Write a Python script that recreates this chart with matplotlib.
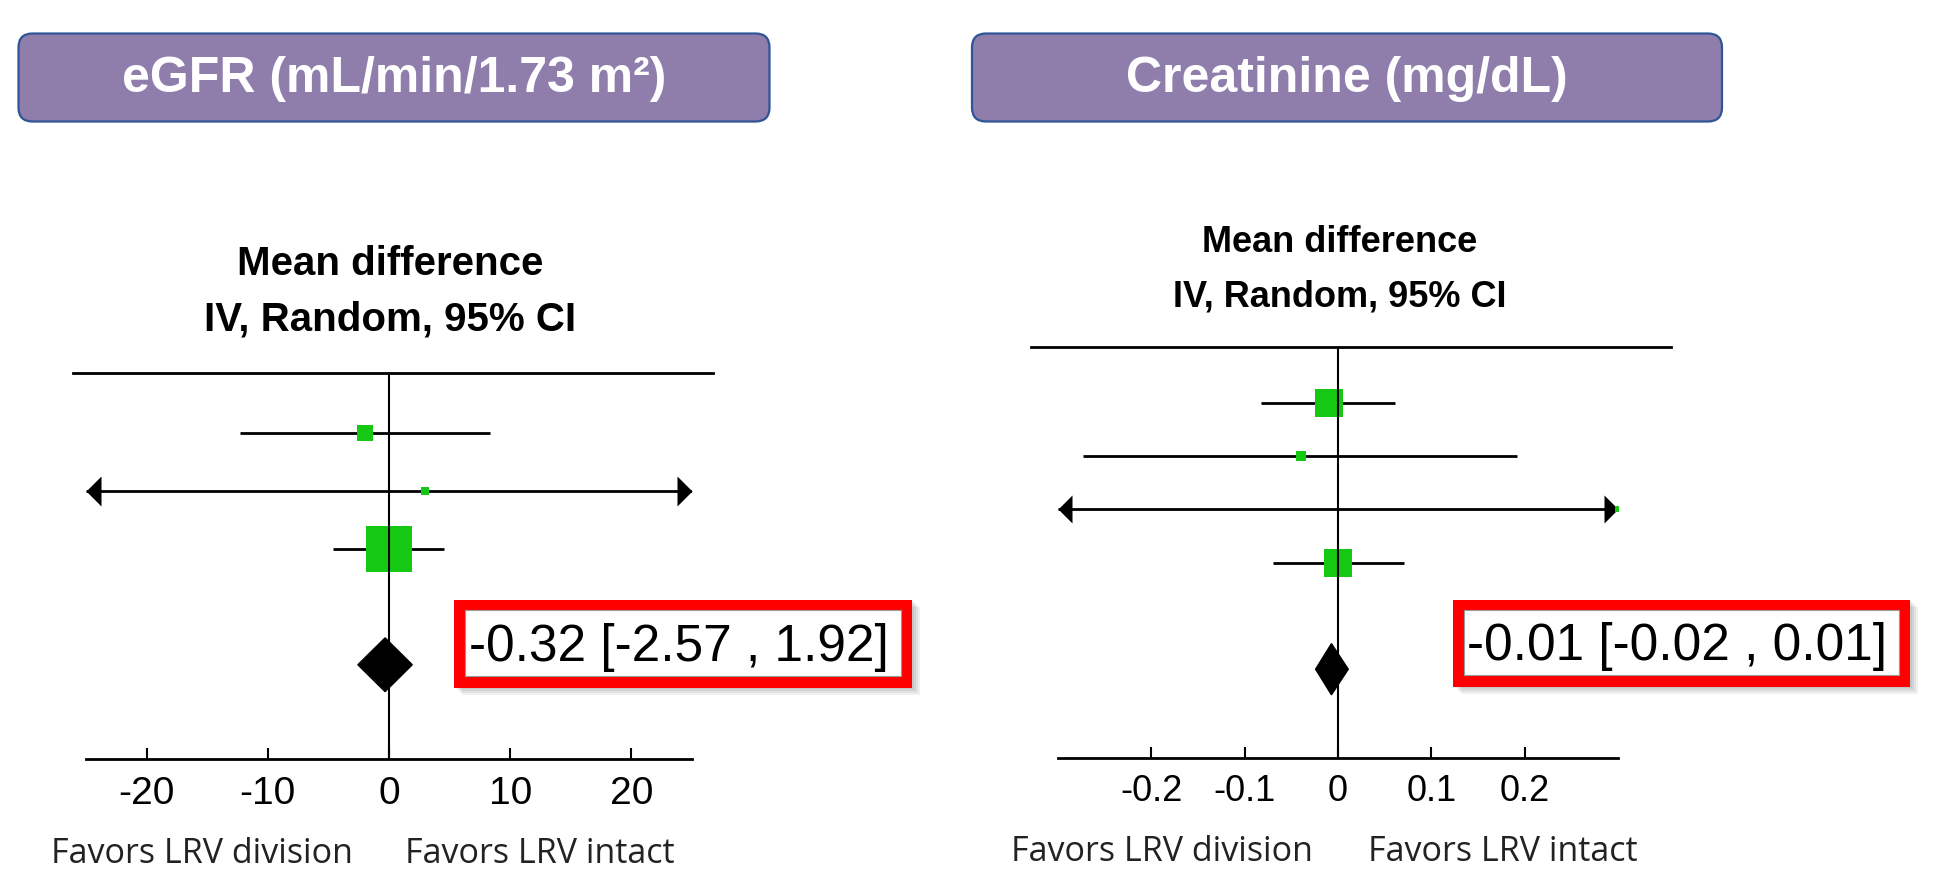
import matplotlib
matplotlib.use("Agg")
import matplotlib.pyplot as plt
from matplotlib.patches import FancyBboxPatch, Rectangle, Polygon
import numpy as np

# ---------------- data ----------------
egfr_title = "eGFR (mL/min/1.73 m²)"
egfr_md = [-2.0, 3.0, 0.0]
egfr_lo = [-12.3, -40.0, -4.6]
egfr_hi = [8.3, 45.0, 4.5]
egfr_weight = [9.5, 3.0, 87.5]
egfr_pooled = [-0.32, -2.57, 1.92]          # estimate, lower, upper
egfr_ticks = [-20, -10, 0, 10, 20]
egfr_tick_labels = ["-20", "-10", "0", "10", "20"]
egfr_label = "-0.32 [-2.57 , 1.92]"

creat_title = "Creatinine (mg/dL)"
creat_md = [-0.01, -0.04, 0.30, 0.0]
creat_lo = [-0.082, -0.273, -0.60, -0.070]
creat_hi = [0.061, 0.192, 1.20, 0.071]
creat_weight = [45.4, 6.8, 1.5, 46.4]
creat_pooled = [-0.007, -0.024, 0.011]
creat_ticks = [-0.2, -0.1, 0, 0.1, 0.2]
creat_tick_labels = ["-0.2", "-0.1", "0", "0.1", "0.2"]
creat_label = "-0.01 [-0.02 , 0.01]"

subtitle_1 = "Mean difference"
subtitle_2 = "IV, Random, 95% CI"
favors_left = "Favors LRV division"
favors_right = "Favors LRV intact"

# ---------------- style ----------------
plt.rcParams['font.family'] = ['Liberation Sans', 'DejaVu Sans']
W, H = 1938, 888
PT = 72.0 / 100.0          # points per pixel at dpi 100
GREEN = '#14C814'
PURPLE = '#8F7DAC'
HEADER_EDGE = '#2F5597'

fig = plt.figure(figsize=(W / 100, H / 100), dpi=100)
bg = fig.add_axes([0, 0, 1, 1])
bg.set_xlim(0, W)
bg.set_ylim(H, 0)
bg.axis('off')

LEFT_HEAD = [(0, 0), (1, 1), (1, -1), (0, 0)]
RIGHT_HEAD = [(0, 0), (-1, 1), (-1, -1), (0, 0)]


def header(x0, x1, y0, y1, text, fs):
    bg.add_patch(FancyBboxPatch((x0, y0), x1 - x0, y1 - y0,
                                boxstyle="round,pad=0,rounding_size=14",
                                fc=PURPLE, ec=HEADER_EDGE, lw=1.6))
    bg.text((x0 + x1) / 2, (y0 + y1) / 2 + 2, text, color='white',
            fontsize=fs, fontweight='bold', ha='center', va='center')


def red_box(x0, x1, y0, y1, text, fs):
    w, h = x1 - x0, y1 - y0
    for k in range(1, 5):
        bg.add_patch(Rectangle((x0 + 2 * k, y0 + 2 * k), w, h, fc='black',
                               ec='none', alpha=0.06))
    lw_px = 11
    bg.add_patch(Rectangle((x0 + lw_px / 2, y0 + lw_px / 2), w - lw_px, h - lw_px,
                           fc='white', ec='#FF0000', lw=lw_px * PT,
                           joinstyle='miter'))
    bg.add_patch(Rectangle((x0 + lw_px, y0 + lw_px), w - 2 * lw_px, h - 2 * lw_px,
                           fc='none', ec='#9A9A9A', lw=0.8))
    bg.text((x0 + x1) / 2 - 4, (y0 + y1) / 2 + 4, text, fontsize=fs,
            ha='center', va='center', color='black')


def forest(px, xlim, ylim, md, lo, hi, weight, pooled, ticks, tick_labels,
           max_px, head_px, tick_fs, top_ext, dia_half):
    x0, y_top, x1, y_bot = px
    ax = fig.add_axes([x0 / W, 1 - y_bot / H, (x1 - x0) / W, (y_bot - y_top) / H])
    ax.set_facecolor('none')
    ax.set_xlim(*xlim)
    ax.set_ylim(*ylim)
    rows = np.arange(1, len(md) + 1)
    lo_c = np.clip(lo, xlim[0], xlim[1])
    hi_c = np.clip(hi, xlim[0], xlim[1])
    ax.hlines(rows, lo_c, hi_c, color='black', lw=2.0, zorder=1)
    for r, l, h in zip(rows, lo, hi):
        if l < xlim[0]:
            ax.plot(xlim[0], r, marker=LEFT_HEAD, ms=head_px * PT, color='black',
                    mew=0, clip_on=False, zorder=1)
        if h > xlim[1]:
            ax.plot(xlim[1], r, marker=RIGHT_HEAD, ms=head_px * PT, color='black',
                    mew=0, clip_on=False, zorder=1)
    wmax = max(weight)
    for r, m, wgt in zip(rows, md, weight):
        side = max_px * np.sqrt(wgt / wmax)
        ax.plot(m, r, marker='s', ms=side * PT, color=GREEN, mew=0, zorder=2)
    ax.axvline(0, color='black', lw=1.5, zorder=3)
    est, plo, phi = pooled
    yd = len(md) + 2
    ax.add_patch(Polygon([(plo, yd), (est, yd - dia_half), (phi, yd), (est, yd + dia_half)],
                         closed=True, fc='black', ec='black', lw=1, zorder=4))
    ax.plot(top_ext, [1, 1], transform=ax.transAxes, color='black', lw=2.0,
            clip_on=False)
    for s in ['left', 'right', 'top']:
        ax.spines[s].set_visible(False)
    ax.spines['bottom'].set_linewidth(2.0)
    ax.set_yticks([])
    ax.set_xticks(ticks, tick_labels)
    ax.tick_params(axis='x', direction='in', length=8, width=1.5, pad=12,
                   labelsize=tick_fs)
    return ax


# ---------------- left panel: eGFR ----------------
header(18.5, 769.5, 33.5, 121.5, egfr_title, 36)
bg.text(390, 264, subtitle_1, fontsize=29, fontweight='bold', ha='center', va='center')
bg.text(390, 319, subtitle_2, fontsize=29, fontweight='bold', ha='center', va='center')
forest((86, 373.3, 692, 759), (-25, 25), (6.63, -0.04), egfr_md, egfr_lo, egfr_hi,
       egfr_weight, egfr_pooled, egfr_ticks, egfr_tick_labels,
       max_px=47, head_px=30, tick_fs=28, top_ext=[-0.0215, 1.034], dia_half=0.465)
red_box(454, 912, 599, 687, egfr_label, 37)
fig.text(202 / W, 1 - 854 / H, favors_left, family='Open Sans', fontsize=24.5,
         ha='center', va='center', color='#222222')
fig.text(540 / W, 1 - 854 / H, favors_right, family='Open Sans', fontsize=24.5,
         ha='center', va='center', color='#222222')

# ---------------- right panel: Creatinine ----------------
header(972, 1722, 33.5, 121.5, creat_title, 36)
bg.text(1340, 242, subtitle_1, fontsize=26, fontweight='bold', ha='center', va='center')
bg.text(1340, 297, subtitle_2, fontsize=26, fontweight='bold', ha='center', va='center')
forest((1058, 346.7, 1618, 757.7), (-0.3, 0.3), (7.66, -0.05), creat_md, creat_lo,
       creat_hi, creat_weight, creat_pooled, creat_ticks, creat_tick_labels,
       max_px=28, head_px=28, tick_fs=26, top_ext=[-0.048, 1.095], dia_half=0.48)
red_box(1453, 1910, 599, 686, creat_label, 37)
fig.text(1162 / W, 1 - 852 / H, favors_left, family='Open Sans', fontsize=24.5,
         ha='center', va='center', color='#222222')
fig.text(1503 / W, 1 - 852 / H, favors_right, family='Open Sans', fontsize=24.5,
         ha='center', va='center', color='#222222')

fig.savefig('out.png', dpi=100, facecolor='white')
